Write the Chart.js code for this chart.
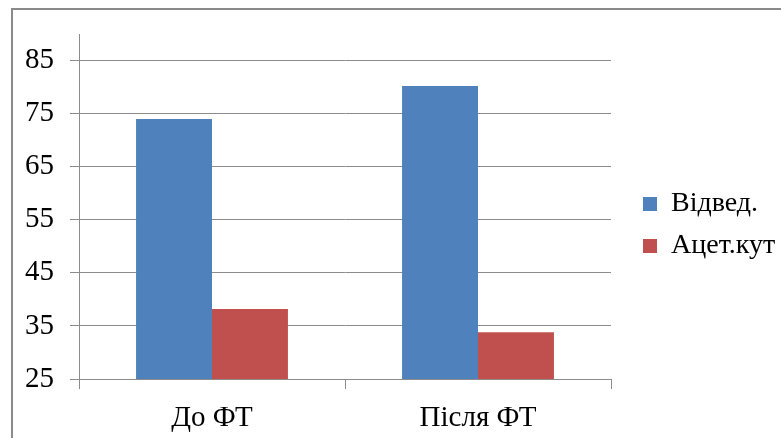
<!DOCTYPE html>
<html>
<head>
<meta charset="utf-8">
<script src="https://cdn.jsdelivr.net/npm/chart.js@4"></script>
<style>
  html, body { margin: 0; padding: 0; background: #fff; }
  #wrap { position: relative; width: 781px; height: 438px; overflow: hidden; background: #fff; }
  #frame { position: absolute; left: 11px; top: 8px; width: 800px; height: 500px;
           border-left: 2px solid #8a8a8a; border-top: 2px solid #8a8a8a; }
  canvas { position: absolute; left: 0; top: 0; }
</style>
</head>
<body>
<div id="wrap">
  <div id="frame"></div>
  <canvas id="c" width="781" height="438"></canvas>
</div>
<script>
// Categories, series and tick values
const categories = ['До ФТ', 'Після ФТ'];
const seriesNames = ['Відвед.', 'Ацет.кут'];
const abduction = [74.0, 80.2];
const acetabularAngle = [38.2, 33.8];
const yTicks = [25, 35, 45, 55, 65, 75, 85];
const yMin = 25;
const yMax = 90;

const SERIF = "'Liberation Serif', 'Times New Roman', serif";
const FONT = { family: SERIF, size: 29 };
const LEGEND_FONT = { family: SERIF, size: 28 };
const GRID = '#8c8c8c';

new Chart(document.getElementById('c'), {
  type: 'bar',
  data: {
    labels: categories,
    datasets: [
      { label: seriesNames[0], data: abduction, backgroundColor: '#4F81BD',
        categoryPercentage: 0.571, barPercentage: 1.0 },
      { label: seriesNames[1], data: acetabularAngle, backgroundColor: '#C0504D',
        categoryPercentage: 0.571, barPercentage: 1.0 }
    ]
  },
  options: {
    responsive: false,
    animation: false,
    devicePixelRatio: 1,
    layout: { padding: { left: 0, top: 12, right: 0, bottom: 0 } },
    plugins: {
      tooltip: { enabled: false },
      legend: {
        position: 'right',
        align: 'center',
        maxWidth: 152,
        labels: { boxWidth: 14, boxHeight: 14, padding: 14, font: LEGEND_FONT, color: '#000' }
      }
    },
    scales: {
      x: {
        position: 'bottom',
        grid: { offset: true, drawOnChartArea: false, tickLength: 10, color: GRID },
        border: { color: GRID },
        ticks: { font: FONT, color: '#000', padding: 12 },
        afterFit: s => { s.height = 59; }
      },
      xTop: {
        type: 'category',
        position: 'top',
        grid: { display: false },
        border: { display: false },
        ticks: { display: false },
        afterFit: s => { s.height = 22; }
      },
      y: {
        min: yMin,
        max: yMax,
        afterBuildTicks: s => { s.ticks = yTicks.map(v => ({ value: v })); },
        grid: { color: GRID, tickLength: 9 },
        border: { color: GRID },
        ticks: { font: FONT, color: '#000', padding: 16 },
        afterFit: s => { s.width = 79; }
      },
      yRight: {
        type: 'linear',
        position: 'right',
        grid: { display: false },
        border: { display: false },
        ticks: { display: false },
        afterFit: s => { s.width = 18; }
      }
    }
  }
});
</script>
</body>
</html>
